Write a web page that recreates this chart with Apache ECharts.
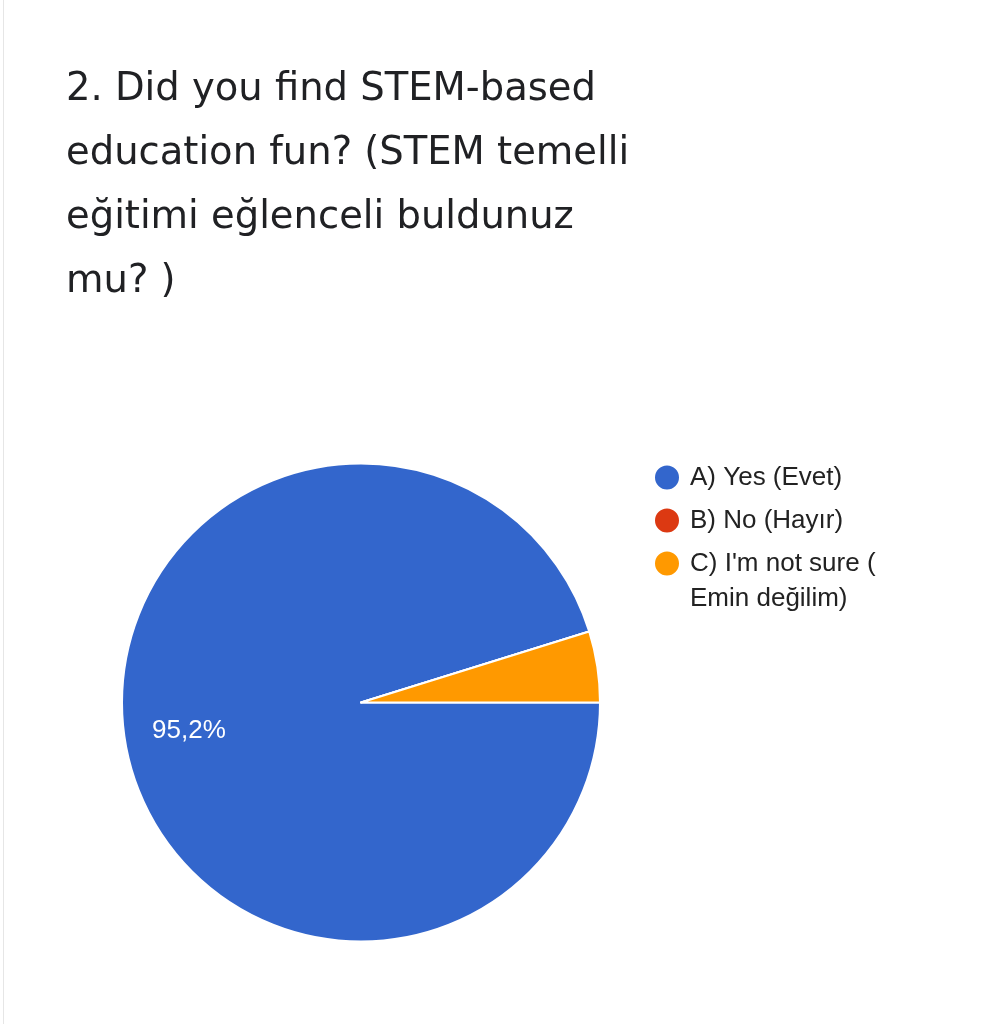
<!DOCTYPE html>
<html>
<head>
<meta charset="utf-8">
<script src="https://cdn.jsdelivr.net/npm/echarts@6/dist/echarts.min.js"></script>
<style>
  html, body { margin: 0; padding: 0; background: #ffffff; }
  #frame { position: absolute; left: 3px; top: -14px; width: 1004px; height: 1060px;
           border: 1px solid #e6e6e6; border-radius: 14px; box-sizing: border-box; }
  #chart { position: absolute; left: 0; top: 0; width: 992px; height: 1024px; }
</style>
</head>
<body>
<div id="frame"></div>
<div id="chart"></div>
<script>
const titleLines = [
  "2. Did you find STEM-based",
  "education fun? (STEM temelli",
  "eğitimi eğlenceli buldunuz",
  "mu? )"
];
const categories = ["A) Yes (Evet)", "B) No (Hayır)", "C) I'm not sure ( Emin değilim)"];
const values = [95.2, 0, 4.8];
const colors = ["#3366CC", "#DC3912", "#FF9900"];

const chart = echarts.init(document.getElementById('chart'));

const pieData = categories.map((name, i) => ({
  name: name,
  value: values[i],
  itemStyle: { color: colors[i] },
  label: { show: i === 0 }
}));

const legendText = {
  fontFamily: 'Liberation Sans, Arial',
  fontSize: 26,
  color: '#222222',
  lineHeight: 35,
  padding: [0, 0, 0, 5]
};

chart.setOption({
  backgroundColor: 'transparent',
  animation: false,
  title: {
    text: titleLines.join('\n'),
    left: 61,
    top: 53,
    textStyle: {
      fontFamily: 'DejaVu Sans',
      fontSize: 38.5,
      fontWeight: 'normal',
      color: '#202124',
      lineHeight: 64
    }
  },
  legend: [{
    orient: 'vertical',
    left: 648,
    top: 455,
    icon: 'circle',
    itemWidth: 26,
    itemHeight: 26,
    itemGap: 8,
    data: categories.slice(0, 2),
    textStyle: legendText
  }, {
    orient: 'vertical',
    left: 648,
    top: 506,
    icon: 'circle',
    itemWidth: 26,
    itemHeight: 26,
    data: categories.slice(2),
    formatter: function (name) { return '\n' + name.replace('( ', '(\n'); },
    textStyle: legendText
  }],
  series: [{
    type: 'pie',
    center: [361, 702.5],
    radius: [0, 239],
    startAngle: 0,
    clockwise: true,
    minAngle: 0,
    avoidLabelOverlap: false,
    itemStyle: { borderColor: '#ffffff', borderWidth: 2 },
    emphasis: { disabled: true },
    label: {
      position: 'inside',
      formatter: function (p) { return '{s|}\n{v|' + p.value.toFixed(1).replace('.', ',') + '%}'; },
      padding: [0, 102, 0, 0],
      rich: {
        s: { fontSize: 10, lineHeight: 20 },
        v: {
          color: '#ffffff',
          fontFamily: 'Liberation Sans, Arial',
          fontSize: 26,
          lineHeight: 30
        }
      }
    },
    labelLine: { show: false },
    data: pieData
  }]
});
</script>
</body>
</html>
